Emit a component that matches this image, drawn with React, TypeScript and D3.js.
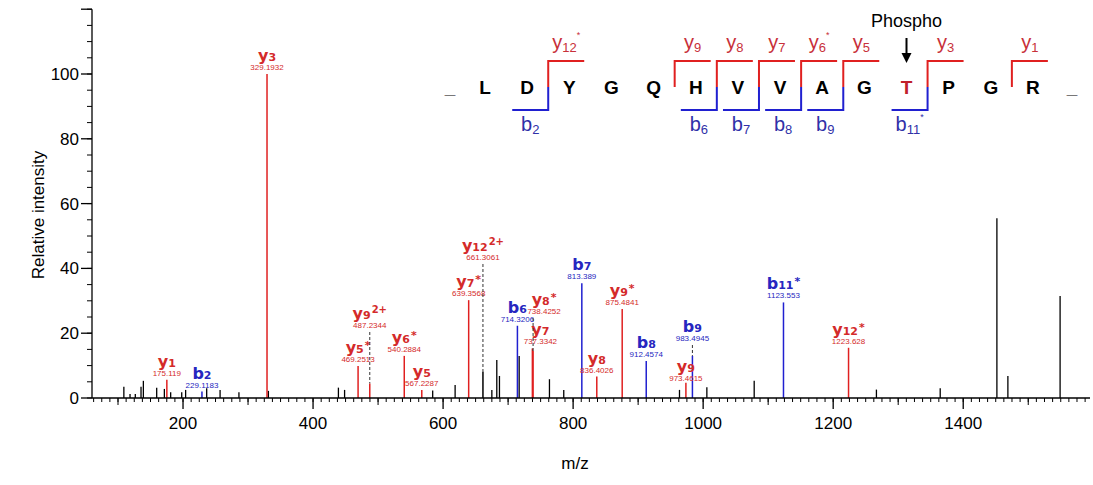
import { useMemo } from 'react';
import * as d3 from 'd3';

// labelled fragment ions
const ionNames = ['y1', 'b2', 'y3', 'y5*', 'y9 2+', 'y6*', 'y5', 'y7*', 'y12 2+', 'b6', 'y7', 'y8*', 'b7', 'y8', 'y9*', 'b8', 'y9', 'b9', 'b11*', 'y12*'];
const ionMz = [175.119, 229.1183, 329.1932, 469.2513, 487.2344, 540.2884, 567.2287, 639.3568, 661.3061, 714.3206, 737.3342, 738.4252, 813.389, 836.4026, 875.4841, 912.4574, 973.4615, 983.4945, 1123.553, 1223.628];
const ionIntensity = [5.6, 2, 100, 9.9, 4.5, 13, 2.5, 30.2, 8.2, 22.3, 15.3, 14.5, 35.4, 6.6, 27.5, 11.4, 4.7, 13, 29.5, 15.5];
const ionMassText = ['175.119', '229.1183', '329.1932', '469.2513', '487.2344', '540.2884', '567.2287', '639.3568', '661.3061', '714.3206', '737.3342', '738.4252', '813.389', '836.4026', '875.4841', '912.4574', '973.4615', '983.4945', '1123.553', '1223.628'];

// unassigned peaks
const otherMz = [109, 118.5, 126.6, 135.4, 139, 159.5, 171.3, 181, 198, 204, 236.4, 257, 286, 331.3, 439, 448.5, 584, 618.5, 675, 682.6, 686.7, 717, 763.6, 785.6, 963.6, 1005.7, 1078.5, 1266.5, 1364.6, 1451.8, 1468.7, 1549];
const otherIntensity = [3.5, 1.2, 1.2, 3.5, 5.3, 3.2, 2.8, 1.8, 1.8, 2.5, 3, 2.5, 1.8, 2.2, 3.2, 2.5, 2.3, 4, 2.5, 11.7, 6.8, 13, 5.8, 2.5, 2.5, 3.3, 5.3, 2.6, 3, 55.5, 6.8, 31.5];

const xLabels = [200, 400, 600, 800, 1000, 1200, 1400];
const yLabels = [0, 20, 40, 60, 80, 100];

// peptide
const residues = ['L', 'D', 'Y', 'G', 'Q', 'H', 'V', 'V', 'A', 'G', 'T', 'P', 'G', 'R'];
const yCleavages = [
  { gap: 1, n: '12', star: true },
  { gap: 4, n: '9', star: false },
  { gap: 5, n: '8', star: false },
  { gap: 6, n: '7', star: false },
  { gap: 7, n: '6', star: true },
  { gap: 8, n: '5', star: false },
  { gap: 10, n: '3', star: false },
  { gap: 12, n: '1', star: false },
];
const bCleavages = [
  { gap: 1, n: '2', star: false },
  { gap: 5, n: '6', star: false },
  { gap: 6, n: '7', star: false },
  { gap: 7, n: '8', star: false },
  { gap: 8, n: '9', star: false },
  { gap: 10, n: '11', star: true },
];

const RED = '#e02020';
const BLUE = '#2020d0';
const RED_TXT = '#d42a2a';
const BLUE_TXT = '#2626c0';

// label layout tweaks for crowded peaks (px)
const labelShift: { [k: string]: { dx: number; top?: number; leader?: boolean } } = {
  'y9 2+': { dx: 0, top: 332, leader: true },
  'y12 2+': { dx: 0, top: 264, leader: true },
  'y8*': { dx: 11, top: 318, leader: true },
  y7: { dx: 8 },
  b9: { dx: 0, top: 345, leader: true },
  y9: { dx: 0, top: 385 },
};

function parseIon(name: string) {
  const [main, charge] = name.split(' ');
  const star = main.endsWith('*');
  const core = star ? main.slice(0, -1) : main;
  return { base: core[0], sub: core.slice(1), sup: charge ? charge : star ? '*' : '', charge: !!charge };
}

export default function App() {
  const width = 1093;
  const height = 485;
  const x = useMemo(() => d3.scaleLinear().domain([60, 1595]).range([92, 1090]), []);
  const y = useMemo(() => d3.scaleLinear().domain([0, 120]).range([398, 9.2]), []);

  const minorX = d3.range(62.5, 1595, 12.5);
  const mediumX = d3.range(100, 1595, 200);
  const minorY = d3.range(0, 121, 5);
  const majorY = d3.range(0, 121, 20);

  const step = 42.15;
  const letterX = (i: number) => 485 + i * step;
  const gapX = (g: number) => (letterX(g) + letterX(g + 1)) / 2;
  const font = 'Liberation Sans, Arial, sans-serif';

  return (
    <svg width={width} height={height} style={{ position: 'absolute', left: 0, top: 0, background: '#fff' }}>
      {/* unassigned peaks */}
      {otherMz.map((m, i) => (
        <line key={'o' + i} x1={x(m)} x2={x(m)} y1={y(0)} y2={y(otherIntensity[i])} stroke="#000" strokeWidth={1.3} />
      ))}

      {/* assigned peaks */}
      {ionNames.map((name, i) => {
        const isB = name[0] === 'b';
        const stroke = name === 'y12 2+' ? '#000' : isB ? BLUE : RED;
        return (
          <line key={'p' + i} x1={x(ionMz[i])} x2={x(ionMz[i])} y1={y(0)} y2={y(ionIntensity[i])} stroke={stroke} strokeWidth={1.5} />
        );
      })}

      {/* peak labels */}
      {ionNames.map((name, i) => {
        const isB = name[0] === 'b';
        const fill = isB ? BLUE_TXT : RED_TXT;
        const shift = labelShift[name] || { dx: 0 };
        const px = x(ionMz[i]);
        const peakTop = y(ionIntensity[i]);
        const top = shift.top !== undefined ? shift.top : peakTop;
        const lx = px + shift.dx;
        const ion = parseIon(name);
        return (
          <g key={'l' + i}>
            {shift.leader && (
              <line x1={px} x2={px} y1={top} y2={peakTop} stroke="#333" strokeWidth={1} strokeDasharray="3,2" />
            )}
            <text x={lx} y={top - 4} textAnchor="middle" fontFamily={font} fontSize={8} fill={fill}>
              {ionMassText[i]}
            </text>
            <text x={lx} y={top - 13} textAnchor="middle" fontFamily="DejaVu Sans, Verdana, sans-serif" fontWeight="bold" fill={fill}>
              <tspan fontSize={16}>{ion.base}</tspan>
              <tspan fontSize={11}>{ion.sub}</tspan>
              {ion.sup && (
                <tspan fontSize={ion.charge ? 10 : 11} dx={1} dy={ion.charge ? -6 : -4}>
                  {ion.sup}
                </tspan>
              )}
            </text>
          </g>
        );
      })}

      {/* x axis */}
      <line x1={92} x2={1090} y1={398} y2={398} stroke="#000" strokeWidth={1.3} />
      {minorX.map((m) => (
        <line key={'mx' + m} x1={x(m)} x2={x(m)} y1={398} y2={402} stroke="#000" />
      ))}
      {mediumX.map((m) => (
        <line key={'dx' + m} x1={x(m)} x2={x(m)} y1={398} y2={405} stroke="#000" />
      ))}
      {xLabels.map((m) => (
        <g key={'xl' + m}>
          <line x1={x(m)} x2={x(m)} y1={398} y2={409} stroke="#000" strokeWidth={1.3} />
          <text x={x(m)} y={429} textAnchor="middle" fontFamily={font} fontSize={17}>
            {m}
          </text>
        </g>
      ))}
      <text x={575} y={469} textAnchor="middle" fontFamily={font} fontSize={17}>
        m/z
      </text>

      {/* y axis */}
      <line x1={92} x2={92} y1={398} y2={y(120)} stroke="#000" strokeWidth={1.3} />
      {minorY.map((v) => (
        <line key={'my' + v} x1={87} x2={92} y1={y(v)} y2={y(v)} stroke="#000" />
      ))}
      {majorY.map((v) => (
        <line key={'jy' + v} x1={81} x2={92} y1={y(v)} y2={y(v)} stroke="#000" strokeWidth={1.3} />
      ))}
      {yLabels.map((v) => (
        <text key={'yl' + v} x={79} y={y(v) + 6} textAnchor="end" fontFamily={font} fontSize={17}>
          {v}
        </text>
      ))}
      <text transform="translate(44,215) rotate(-90)" textAnchor="middle" fontFamily={font} fontSize={17}>
        Relative intensity
      </text>

      {/* peptide sequence */}
      <text x={450} y={94} textAnchor="middle" fontFamily={font} fontWeight="bold" fontSize={19}>
        _
      </text>
      <text x={1072} y={94} textAnchor="middle" fontFamily={font} fontWeight="bold" fontSize={19}>
        _
      </text>
      {residues.map((r, i) => (
        <text key={'r' + i} x={letterX(i)} y={94} textAnchor="middle" fontFamily={font} fontWeight="bold" fontSize={19} fill={r === 'T' && i === 10 ? '#c0202a' : '#000'}>
          {r}
        </text>
      ))}
      {yCleavages.map((c) => {
        const gx = gapX(c.gap);
        return (
          <g key={'yc' + c.gap}>
            <path d={`M${gx},87 V61 H${gx + 36}`} fill="none" stroke={RED} strokeWidth={2} />
            <text x={gx + 18} y={49} textAnchor="middle" fontFamily={font} fill="#c8303a">
              <tspan fontSize={20}>y</tspan>
              <tspan fontSize={13} dy={3}>
                {c.n}
              </tspan>
              {c.star && (
                <tspan fontSize={9} dy={-14}>
                  *
                </tspan>
              )}
            </text>
          </g>
        );
      })}
      {bCleavages.map((c) => {
        const gx = gapX(c.gap);
        return (
          <g key={'bc' + c.gap}>
            <path d={`M${gx},87 V110 H${gx - 36}`} fill="none" stroke={BLUE} strokeWidth={2} />
            <text x={gx - 18} y={131} textAnchor="middle" fontFamily={font} fill="#3030a8">
              <tspan fontSize={20}>b</tspan>
              <tspan fontSize={13} dy={3}>
                {c.n}
              </tspan>
              {c.star && (
                <tspan fontSize={9} dy={-14}>
                  *
                </tspan>
              )}
            </text>
          </g>
        );
      })}
      <text x={letterX(10)} y={27} textAnchor="middle" fontFamily={font} fontSize={18}>
        Phospho
      </text>
      <line x1={letterX(10)} x2={letterX(10)} y1={38} y2={55} stroke="#000" strokeWidth={2} />
      <path d={`M${letterX(10) - 5},53 L${letterX(10) + 5},53 L${letterX(10)},63 Z`} fill="#000" />
    </svg>
  );
}
